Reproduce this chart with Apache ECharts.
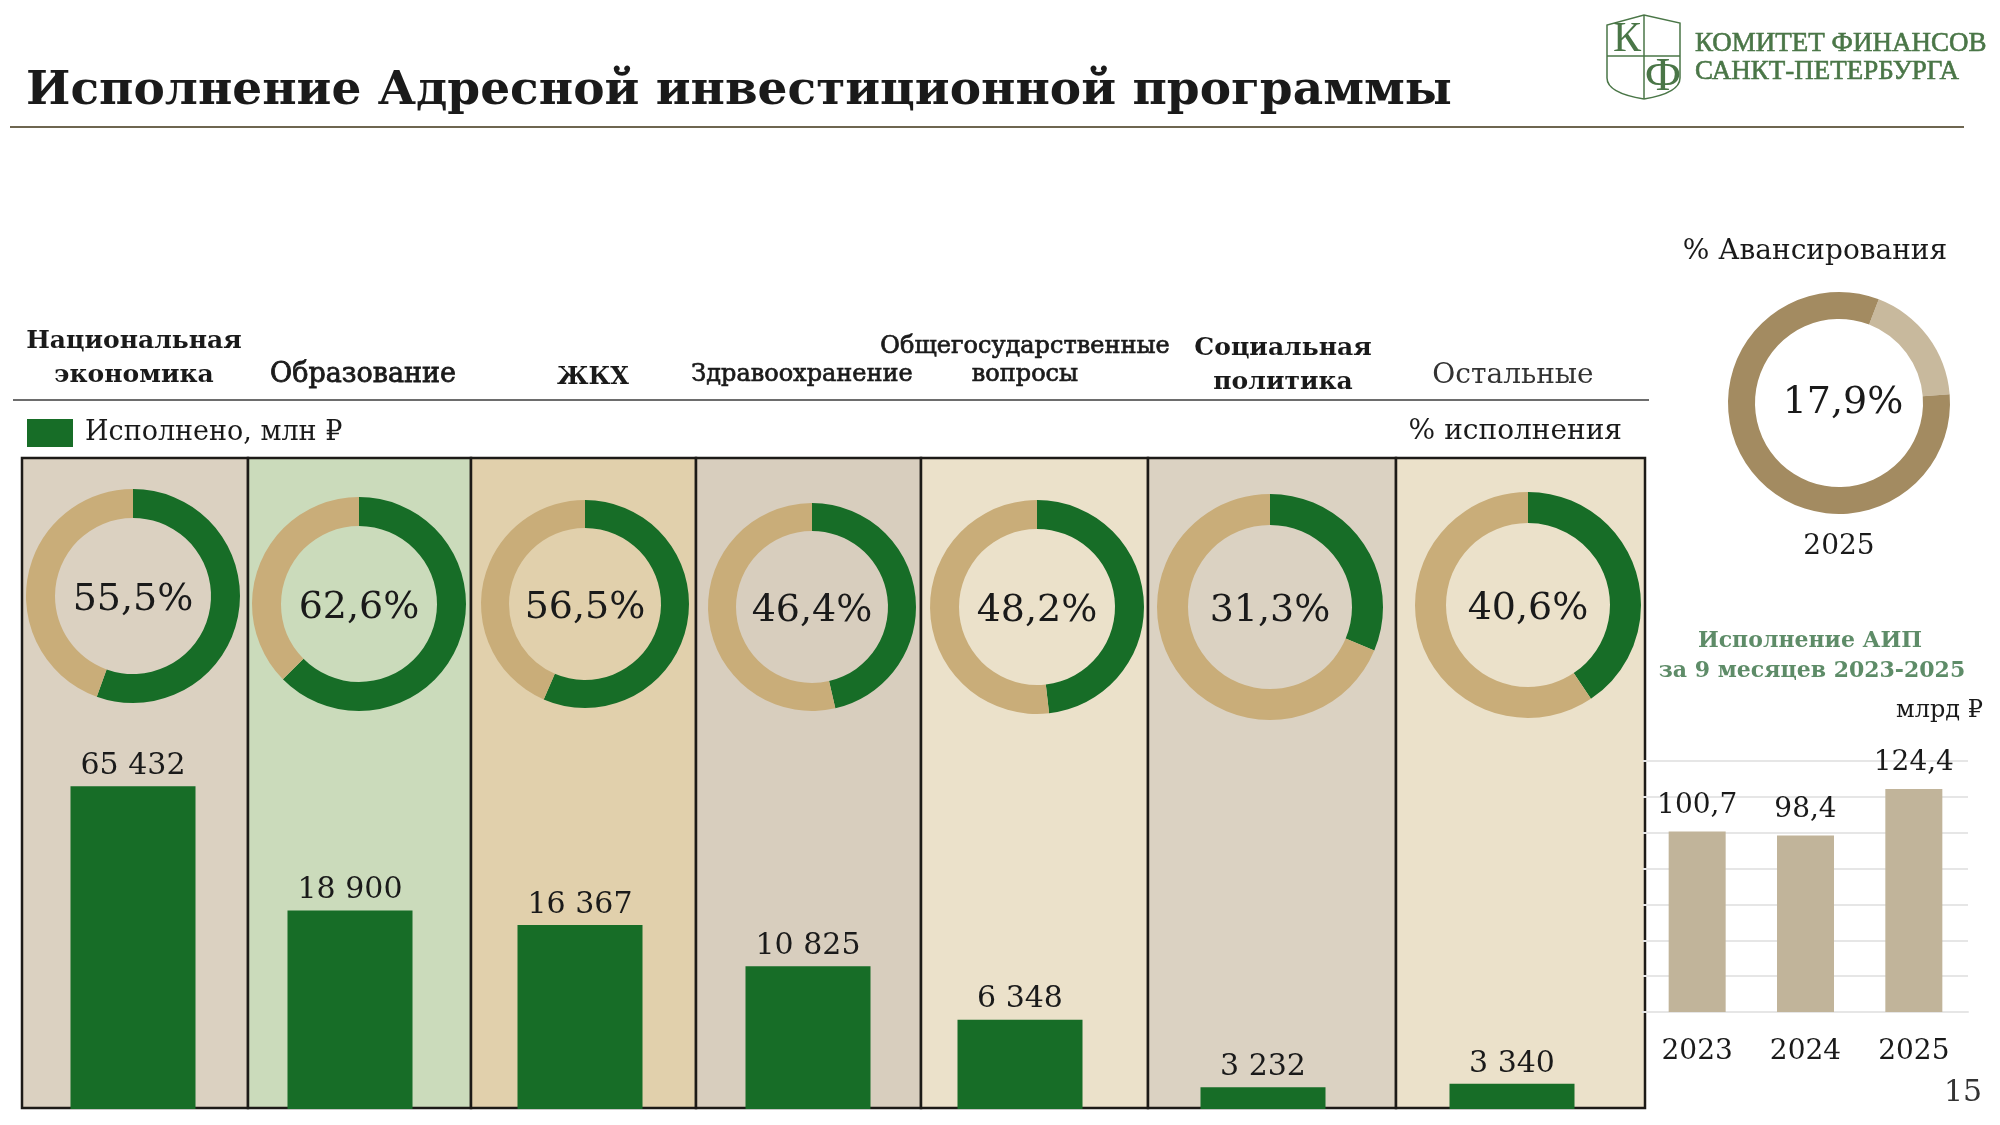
<!DOCTYPE html>
<html>
<head>
<meta charset="utf-8">
<script src="https://cdn.jsdelivr.net/npm/echarts@6/dist/echarts.min.js"></script>
<style>
  html, body { margin: 0; padding: 0; background: #fff; }
  #chart { width: 2000px; height: 1125px; }
</style>
</head>
<body>
<div id="chart"></div>
<script>
// --- data ---
const categories = ['Национальная экономика', 'Образование', 'ЖКХ', 'Здравоохранение',
    'Общегосударственные вопросы', 'Социальная политика', 'Остальные'];
const executed = [65432, 18900, 16367, 10825, 6348, 3232, 3340];      // млн ₽
const executionPct = [55.5, 62.6, 56.5, 46.4, 48.2, 31.3, 40.6];     // %
const advanceYear = '2025';
const advancePct = 17.9;
const aipYears = ['2023', '2024', '2025'];
const aipValues = [100.7, 98.4, 124.4];                               // млрд ₽
const aipTicks = [0, 20, 40, 60, 80, 100, 120, 140];

// --- layout ---
const FONT = 'DejaVu Serif';
const GREEN = '#176d27';
const TAN = '#c9ad79';
const colEdges = [22, 248, 471, 696, 921, 1148, 1396, 1645];
const colColors = ['#dbd1c1', '#cbdbbb', '#e1d0ac', '#d8cebe', '#ebe1ca', '#dbd2c2', '#ebe1ca'];
const barCenters = [133, 350, 580, 808, 1020, 1263, 1512];
const donutCenters = [[133, 596], [359, 604], [585, 604], [812, 607], [1037, 607], [1270, 607], [1528, 605]];
const donutRadius = [107, 107, 104, 104, 107, 113, 113];
const panelTop = 458, panelBottom = 1108;

function fmtThousands(v) {
    return String(v).replace(/\B(?=(\d{3})+(?!\d))/g, ' ');
}
function fmtComma(v) {
    return v.toFixed(1).replace('.', ',');
}

function txt(text, x, y, size, opts) {
    opts = opts || {};
    let color = opts.color || '#1a1a1a';
    let style = {
        text: text,
        x: x,
        y: y,
        fill: color,
        fontSize: size,
        fontFamily: opts.family || FONT,
        fontWeight: opts.weight || 'normal',
        align: opts.align || 'center',
        textAlign: opts.align || 'center',
        verticalAlign: 'middle',
        textVerticalAlign: 'middle'
    };
    if (opts.medium) {
        // DejaVu has no medium face, thicken the regular one a little
        style.stroke = color;
        style.lineWidth = opts.medium;
    }
    return { type: 'text', z: 20, style: style };
}

let chartDom = document.getElementById('chart');
let myChart = echarts.init(chartDom);

let grids = [];
let xAxes = [];
let yAxes = [];
let series = [];

// one small grid per column so each bar sits in its own panel
for (let i = 0; i < categories.length; i++) {
    grids.push({ left: barCenters[i] - 100, width: 200, top: panelTop, bottom: 1125 - panelBottom - 1 });
    xAxes.push({ type: 'category', gridIndex: i, data: [categories[i]], show: false });
    yAxes.push({ type: 'log', gridIndex: i, min: 2598, max: 1744000, show: false });
    series.push({
        name: 'Исполнено, млн ₽',
        type: 'bar',
        xAxisIndex: i,
        yAxisIndex: i,
        barWidth: 125,
        clip: true,
        silent: true,
        itemStyle: { color: GREEN },
        label: {
            show: true,
            position: 'top',
            distance: 5,
            fontFamily: FONT,
            fontSize: 30,
            color: '#1a1a1a',
            formatter: p => fmtThousands(p.value)
        },
        data: [executed[i]]
    });
    let r = donutRadius[i];
    series.push({
        type: 'pie',
        silent: true,
        center: donutCenters[i],
        radius: [Math.round(r * 0.73), r],
        startAngle: 90,
        clockwise: true,
        label: { show: false },
        labelLine: { show: false },
        labelLayout: { dy: 4 },
        data: [
            {
                value: executionPct[i],
                itemStyle: { color: GREEN },
                label: {
                    show: true,
                    position: 'center',
                    fontFamily: FONT,
                    fontSize: 38,
                    color: '#1a1a1a',
                    formatter: () => fmtComma(executionPct[i]) + '%'
                }
            },
            { value: 100 - executionPct[i], itemStyle: { color: TAN } }
        ]
    });
}

// advance payment donut
series.push({
    type: 'pie',
    silent: true,
    center: [1839, 403],
    radius: [84, 111],
    startAngle: 69,
    clockwise: true,
    labelLine: { show: false },
    label: { show: false },
    labelLayout: { dx: 4 },
    data: [
        {
            value: advancePct,
            itemStyle: { color: '#c8b99d' },
            label: {
                show: true,
                position: 'center',
                fontFamily: FONT,
                fontSize: 38,
                color: '#1a1a1a',
                formatter: () => fmtComma(advancePct) + '%'
            }
        },
        { value: 100 - advancePct, itemStyle: { color: '#a38b61' } }
    ]
});

// AIP small bar chart
let aipGrid = grids.length;
grids.push({ left: 1643, width: 325, top: 761, bottom: 1125 - 1012 });
xAxes.push({
    type: 'category',
    gridIndex: aipGrid,
    data: aipYears,
    axisLine: { lineStyle: { color: '#e6e6e6', width: 2 } },
    axisTick: { show: false },
    axisLabel: { margin: 26, fontFamily: FONT, fontSize: 28, color: '#1a1a1a' }
});
yAxes.push({
    type: 'value',
    gridIndex: aipGrid,
    min: aipTicks[0],
    max: aipTicks[aipTicks.length - 1],
    interval: aipTicks[1] - aipTicks[0],
    axisLabel: { show: false },
    axisLine: { show: false },
    axisTick: { show: false },
    splitLine: { lineStyle: { color: '#e6e6e6', width: 2 } }
});
series.push({
    type: 'bar',
    xAxisIndex: aipGrid,
    yAxisIndex: aipGrid,
    barWidth: 57,
    silent: true,
    itemStyle: { color: '#c1b49a' },
    label: {
        show: true,
        position: 'top',
        distance: 12,
        fontFamily: FONT,
        fontSize: 28,
        color: '#1a1a1a',
        formatter: p => fmtComma(p.value)
    },
    data: aipValues
});

// column panels
let panels = [];
for (let i = 0; i < colColors.length; i++) {
    panels.push({
        type: 'rect',
        z: 0,
        shape: { x: colEdges[i], y: panelTop, width: colEdges[i + 1] - colEdges[i], height: panelBottom - panelTop },
        style: { fill: colColors[i], stroke: '#1c1a17', lineWidth: 2.5 }
    });
}

// logo: shield with К / Ф and the committee name
const LOGO = '#4a7647';
const logoLine = { stroke: LOGO, lineWidth: 1.5, fill: null };
let logo = [
    { type: 'polyline', z: 20, shape: { points: [[1607, 78], [1607, 25], [1644, 15], [1680, 23], [1680, 78]] }, style: logoLine },
    { type: 'bezierCurve', z: 20, shape: { x1: 1680, y1: 78, cpx1: 1680, cpy1: 93, x2: 1644, y2: 99 }, style: logoLine },
    { type: 'bezierCurve', z: 20, shape: { x1: 1607, y1: 78, cpx1: 1607, cpy1: 93, x2: 1644, y2: 99 }, style: logoLine },
    { type: 'line', z: 20, shape: { x1: 1644, y1: 15, x2: 1644, y2: 99 }, style: logoLine },
    { type: 'line', z: 20, shape: { x1: 1607, y1: 56, x2: 1680, y2: 56 }, style: logoLine },
    txt('К', 1627, 40, 42, { color: LOGO, family: 'Liberation Serif' }),
    txt('Ф', 1663, 78, 46, { color: LOGO, family: 'Liberation Serif' }),
    txt('КОМИТЕТ ФИНАНСОВ', 1695, 44, 27, { color: LOGO, family: 'Liberation Serif', align: 'left', medium: 0.6 }),
    txt('САНКТ-ПЕТЕРБУРГА', 1695, 72, 27, { color: LOGO, family: 'Liberation Serif', align: 'left', medium: 0.6 })
];

let texts = [
    txt('Исполнение Адресной инвестиционной программы', 26, 92, 47, { weight: 'bold', align: 'left' }),
    { type: 'line', z: 20, shape: { x1: 10, y1: 127, x2: 1964, y2: 127 }, style: { stroke: '#6e6650', lineWidth: 2 } },

    txt('Национальная', 134, 341, 25, { weight: 'bold' }),
    txt('экономика', 134, 375, 25, { weight: 'bold' }),
    txt('Образование', 363, 375, 27, { medium: 0.8 }),
    txt('ЖКХ', 593, 378, 24, { weight: 'bold' }),
    txt('Здравоохранение', 802, 375, 24, { medium: 0.7 }),
    txt('Общегосударственные', 1025, 347, 24, { medium: 0.7 }),
    txt('вопросы', 1025, 375, 24, { medium: 0.7 }),
    txt('Социальная', 1283, 348, 25, { weight: 'bold' }),
    txt('политика', 1283, 382, 25, { weight: 'bold' }),
    txt('Остальные', 1513, 376, 28, { color: '#333' }),
    { type: 'line', z: 20, shape: { x1: 13, y1: 400, x2: 1649, y2: 400 }, style: { stroke: '#6d6d6d', lineWidth: 2 } },
    txt('% исполнения', 1622, 432, 28, { align: 'right' }),

    txt('% Авансирования', 1815, 252, 28),
    txt(advanceYear, 1839, 547, 28),
    txt('Исполнение АИП', 1810, 641, 22, { weight: 'bold', color: '#5e8c68' }),
    txt('за 9 месяцев 2023-2025', 1812, 671, 22, { weight: 'bold', color: '#5e8c68' }),
    txt('млрд ₽', 1983, 711, 24, { align: 'right' }),
    txt('15', 1963, 1093, 30, { color: '#333' })
];

let option = {
    animation: false,
    backgroundColor: '#ffffff',
    textStyle: { fontFamily: FONT },
    legend: {
        data: ['Исполнено, млн ₽'],
        left: 27,
        top: 419,
        padding: 0,
        icon: 'rect',
        itemWidth: 46,
        itemHeight: 28,
        selectedMode: false,
        textStyle: { fontFamily: FONT, fontSize: 27, color: '#1a1a1a', padding: [0, 0, 0, 7] }
    },
    grid: grids,
    xAxis: xAxes,
    yAxis: yAxes,
    graphic: { elements: panels.concat(texts, logo) },
    series
};

option && myChart.setOption(option);
</script>
</body>
</html>
